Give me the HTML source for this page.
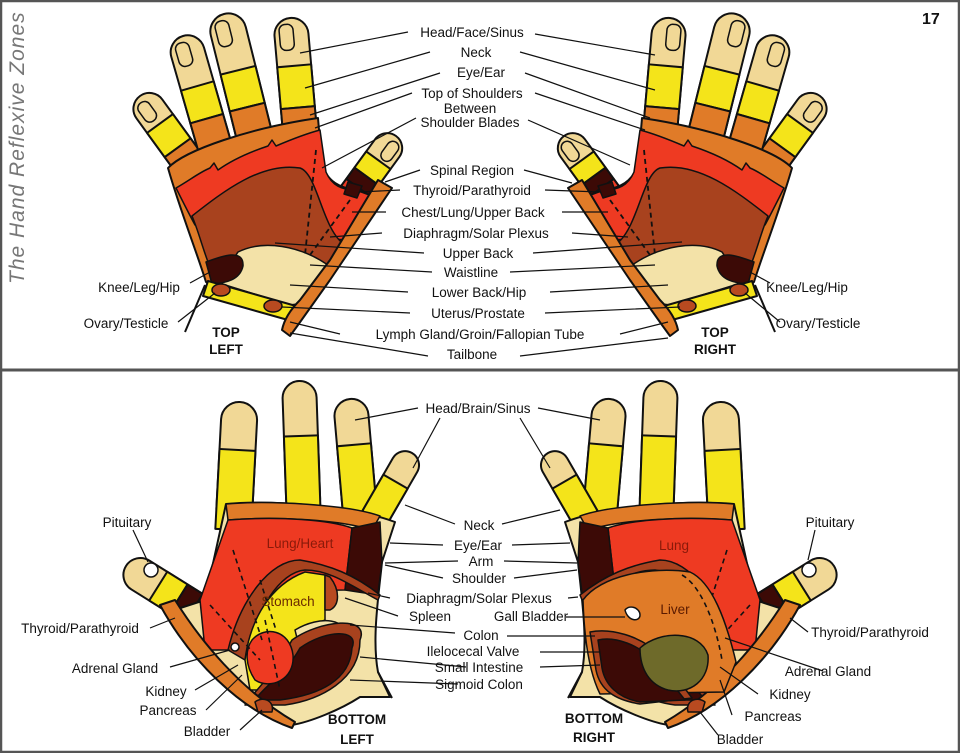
<!DOCTYPE html>
<html><head><meta charset="utf-8"><style>
html,body{margin:0;padding:0;background:#fff}
svg{display:block}
text{font-family:"Liberation Sans",sans-serif;font-size:13.5px;fill:#111}
.b{font-weight:bold}
</style></head><body>
<svg width="960" height="753" viewBox="0 0 960 753" xmlns="http://www.w3.org/2000/svg">
<defs>
<g id="tl" stroke="#111" stroke-width="2" stroke-linejoin="round">
  <g transform="translate(140,96) rotate(-36)">
    <rect x="-16" y="0" width="32" height="120" rx="16" fill="#F1D896"/>
    <rect x="-16" y="34" width="32" height="30" fill="#F4E41A"/>
    <rect x="-16" y="64" width="32" height="60" fill="#E07B28"/>
    <rect x="-10" y="6" width="13" height="22" rx="6" fill="none" stroke-width="1.5"/>
  </g>
  <g transform="translate(183,36) rotate(-16)">
    <rect x="-17" y="0" width="34" height="140" rx="17" fill="#F1D896"/>
    <rect x="-17" y="52" width="34" height="34" fill="#F4E41A"/>
    <rect x="-17" y="86" width="34" height="60" fill="#E07B28"/>
    <rect x="-11" y="6" width="14" height="24" rx="6" fill="none" stroke-width="1.5"/>
  </g>
  <g transform="translate(224,14) rotate(-14)">
    <rect x="-18" y="0" width="36" height="150" rx="18" fill="#F1D896"/>
    <rect x="-18" y="58" width="36" height="38" fill="#F4E41A"/>
    <rect x="-18" y="96" width="36" height="60" fill="#E07B28"/>
    <rect x="-12" y="6" width="14" height="26" rx="6" fill="none" stroke-width="1.5"/>
  </g>
  <g transform="translate(290,18) rotate(-5)">
    <rect x="-17" y="0" width="34" height="150" rx="17" fill="#F1D896"/>
    <rect x="-17" y="48" width="34" height="42" fill="#F4E41A"/>
    <rect x="-17" y="90" width="34" height="60" fill="#E07B28"/>
    <rect x="-12" y="6" width="14" height="26" rx="6" fill="none" stroke-width="1.5"/>
  </g>
  <g transform="translate(396,136) rotate(36)">
    <rect x="-15" y="0" width="30" height="90" rx="15" fill="#F1D896"/>
    <rect x="-15" y="30" width="30" height="20" fill="#F4E41A"/>
    <rect x="-15" y="50" width="30" height="14" fill="#3C0A06"/>
    <rect x="-15" y="64" width="30" height="26" fill="#EE3A22"/>
    <rect x="-2" y="5" width="12" height="22" rx="6" fill="none" stroke-width="1.5"/>
  </g>
  <path d="M168,168 C185,150 250,128 318,118 L322,165 C328,182 340,188 356,190 L372,196 L330,262 L300,310 L206,282 C196,250 180,210 168,168 Z" fill="#E07B28"/>
  <path d="M176,188 C190,180 200,172 210,168 L214,163 L218,170 C232,160 250,152 268,146 L272,140 L276,146 C290,140 305,134 320,130 L326,172 C332,186 342,190 356,190 L372,196 L345,240 L195,225 C188,212 182,200 176,188 Z" fill="#EE3A22" stroke-width="1.5"/>
  <path d="M192,216 C225,190 262,162 300,168 C318,174 322,230 345,245 L330,268 L208,262 C202,246 198,230 192,216 Z" fill="#A8421E" stroke-width="1.5"/>
  <path d="M238,252 C262,240 300,244 332,268 L312,302 L290,305 L222,284 C228,272 232,260 238,252 Z" fill="#F3E2A8" stroke-width="1.5"/>
  <path d="M206,262 C222,256 244,248 243,266 C240,280 226,283 212,284 Z" fill="#3C0A06" stroke-width="1.5"/>
  <path d="M208,281 L296,306 L288,320 L203,296 Z" fill="#F4E41A"/>
  <ellipse cx="221" cy="290" rx="9" ry="6" fill="#B84A20" stroke-width="1.5"/>
  <ellipse cx="273" cy="306" rx="9" ry="6" fill="#B84A20" stroke-width="1.5"/>
  <path d="M378,180 L392,188 L330,280 L298,325 L290,336 L282,330 C284,320 290,310 300,300 L330,260 Z" fill="#E07B28"/>
  <path d="M348,182 L362,186 L357,198 L344,194 Z" fill="#3C0A06" stroke-width="1.5"/>
  <path d="M316,150 L305,255 M350,200 L310,255" fill="none" stroke-dasharray="5,4" stroke-width="1.8"/>
  <path d="M205,285 L185,332" fill="none"/>
</g>
<g id="bl" stroke="#111" stroke-width="2" stroke-linejoin="round">
  <g transform="translate(240,402) rotate(3)">
    <rect x="-18" y="0" width="36" height="125" rx="18" fill="#F1D896"/>
    <rect x="-18" y="48" width="36" height="80" fill="#F4E41A"/>
  </g>
  <g transform="translate(299,381) rotate(-2)">
    <rect x="-17" y="0" width="34" height="135" rx="17" fill="#F1D896"/>
    <rect x="-17" y="55" width="34" height="80" fill="#F4E41A"/>
  </g>
  <g transform="translate(350,399) rotate(-5)">
    <rect x="-17" y="0" width="34" height="125" rx="17" fill="#F1D896"/>
    <rect x="-17" y="46" width="34" height="80" fill="#F4E41A"/>
  </g>
  <g transform="translate(412,453) rotate(30)">
    <rect x="-14" y="0" width="28" height="110" rx="14" fill="#F1D896"/>
    <rect x="-14" y="33" width="28" height="42" fill="#F4E41A"/>
    <rect x="-14" y="75" width="28" height="40" fill="#E07B28"/>
  </g>
  <g transform="translate(126,566) rotate(-58)">
    <rect x="-17" y="0" width="34" height="110" rx="17" fill="#F1D896"/>
    <rect x="-17" y="38" width="34" height="24" fill="#F4E41A"/>
    <rect x="-17" y="62" width="34" height="18" fill="#3C0A06"/>
    <rect x="-17" y="80" width="34" height="30" fill="#EE3A22"/>
  </g>
  <circle cx="151" cy="570" r="7" fill="#fff" stroke-width="1.5"/>
  <path d="M226,504 C270,500 350,505 395,522 L382,562 C378,600 372,640 378,672 L390,697 L360,697 C340,710 310,722 292,725 C250,700 205,660 168,612 L205,600 Z" fill="#F3E2A8"/>
  <path d="M226,504 C270,500 350,505 380,516 L372,530 C340,520 280,516 228,520 Z" fill="#E07B28" stroke-width="1.5"/>
  <path d="M228,520 C280,516 330,520 352,528 L345,590 C300,590 250,600 230,650 L205,650 L200,600 Z" fill="#EE3A22" stroke-width="1.5"/>
  <path d="M352,528 L380,522 L382,562 C380,580 378,590 378,595 L345,590 Z" fill="#3C0A06" stroke-width="1.5"/>
  <path d="M228,650 C240,600 270,560 300,560 C330,565 355,575 380,595 L378,600 C350,585 330,570 305,570 C280,572 255,610 245,660 Z" fill="#A8421E" stroke-width="1.5"/>
  <path d="M245,660 C250,620 270,585 305,572 L325,575 L325,620 C300,630 290,660 290,690 L250,690 Z" fill="#F4E41A" stroke-width="1.5"/>
  <path d="M325,575 L330,577 C340,590 340,605 330,610 L325,610 Z" fill="#B84A20" stroke-width="1.5"/>
  <path d="M295,630 C320,615 350,618 345,640 L300,650 Z" fill="#F3E2A8" stroke-width="1.5"/>
  <path d="M292,640 C320,620 370,615 360,640 C360,680 320,700 285,705 L245,705 C255,690 270,680 292,640 Z" fill="#A8421E" stroke-width="1.5"/>
  <path d="M300,648 C325,630 360,628 352,648 C350,680 320,695 280,700 L255,700 C265,685 285,675 300,648 Z" fill="#3C0A06" stroke-width="1.5"/>
  <path d="M252,640 C265,625 290,630 293,655 C295,680 270,690 255,680 C245,665 245,650 252,640 Z" fill="#EE3A22" stroke-width="1.5"/>
  <circle cx="235" cy="647" r="4" fill="#fff" stroke-width="1.5"/>
  <path d="M160,605 L175,600 C200,640 240,690 295,722 L292,728 C240,710 190,660 160,605 Z" fill="#E07B28"/>
  <path d="M255,702 C262,696 275,700 272,712 L258,712 Z" fill="#B84A20" stroke-width="1.5"/>
  <path d="M233,550 L262,640 M210,605 L260,660 M260,580 L276,630 M265,620 L280,690" fill="none" stroke-dasharray="5,4" stroke-width="1.6"/>
  <path d="M378,672 L392,698" fill="none"/>
</g>
</defs>

<rect x="1" y="1" width="958" height="751" fill="none" stroke="#555" stroke-width="2.5"/>
<line x1="0" y1="370" x2="960" y2="370" stroke="#555" stroke-width="3"/>

<text x="0" y="0" transform="translate(24,284) rotate(-90)" style="font-size:21px;font-style:italic;fill:#777;letter-spacing:1px">The Hand Reflexive Zones</text>
<text x="922" y="24" class="b" style="font-size:16px">17</text>

<use href="#tl"/>
<use href="#tl" transform="translate(960,0) scale(-1,1)"/>
<use href="#bl"/>
<use href="#bl" transform="translate(960,0) scale(-1,1)"/>
<!-- bottom right liver area -->
<g stroke="#111" stroke-width="1.5" stroke-linejoin="round">
  <path d="M583,600 C600,576 650,566 690,572 C712,582 726,620 736,662 L724,692 L600,694 C588,670 584,632 583,600 Z" fill="#E07B28"/>
  <path d="M590,632 C610,628 640,635 660,655 L692,698 L640,704 C615,700 600,690 596,670 Z" fill="#A8421E"/>
  <path d="M598,640 C615,636 640,645 655,662 L685,700 L640,702 C618,698 605,685 602,668 Z" fill="#3C0A06"/>
  <path d="M640,648 C660,630 700,630 708,655 C710,680 690,695 668,690 C650,685 640,670 640,648 Z" fill="#6E6A2A"/>
  <path d="M625,610 C630,604 640,608 640,615 C640,622 628,622 625,610 Z" fill="#fff"/>
  <path d="M682,575 C700,585 715,620 722,660" fill="none" stroke-dasharray="5,4" stroke-width="1.6"/>
</g>

<g stroke="#111" stroke-width="1.2" fill="none">
  <path d="M408,32 L300,53 M535,34 L655,55"/>
  <path d="M430,52 L305,88 M520,52 L655,90"/>
  <path d="M440,73 L310,115 M525,73 L650,118"/>
  <path d="M412,93 L315,128 M535,93 L645,130"/>
  <path d="M416,118 L322,168 M528,120 L630,165"/>
  <path d="M420,170 L385,182 M524,170 L572,183"/>
  <path d="M400,190 L360,192 M545,190 L600,192"/>
  <path d="M386,212 L352,212 M562,212 L608,212"/>
  <path d="M382,233 L330,237 M572,233 L628,237"/>
  <path d="M424,253 L275,243 M533,253 L682,242"/>
  <path d="M432,272 L310,265 M510,272 L655,265"/>
  <path d="M408,292 L290,285 M550,292 L668,285"/>
  <path d="M410,313 L282,307 M545,313 L680,307"/>
  <path d="M340,334 L290,322 M620,334 L668,322"/>
  <path d="M428,356 L290,333 M520,356 L668,338"/>
  <path d="M190,283 L210,272 M770,283 L750,272"/>
  <path d="M178,322 L215,293 M780,322 L745,293"/>
  <path d="M418,408 L355,420 M440,418 L413,468 M538,408 L600,420 M520,418 L550,468"/>
  <path d="M455,524 L405,505 M502,524 L560,510"/>
  <path d="M443,545 L390,543 M512,545 L570,543"/>
  <path d="M458,561 L385,563 M504,561 L577,563"/>
  <path d="M443,578 L385,565 M514,578 L577,570"/>
  <path d="M390,598 L368,593 M568,598 L578,597"/>
  <path d="M398,616 L345,598 M566,617 L625,617"/>
  <path d="M455,633 L350,625 M507,636 L595,636"/>
  <path d="M466,667 L360,657 M540,652 L600,652"/>
  <path d="M458,684 L350,680 M540,667 L600,665"/>
  <path d="M133,530 L148,562 M815,530 L808,560"/>
  <path d="M150,628 L175,618 M808,632 L790,618"/>
  <path d="M170,667 L230,650 M823,671 L725,638"/>
  <path d="M195,690 L238,665 M758,694 L720,667"/>
  <path d="M206,710 L242,675 M732,715 L720,680"/>
  <path d="M240,730 L262,710 M718,735 L700,712"/>
</g>

<g text-anchor="middle">
<text x="472" y="37">Head/Face/Sinus</text>
<text x="476" y="57">Neck</text>
<text x="481" y="77">Eye/Ear</text>
<text x="472" y="98">Top of Shoulders</text>
<text x="470" y="113">Between</text>
<text x="470" y="127">Shoulder Blades</text>
<text x="472" y="175">Spinal Region</text>
<text x="472" y="195">Thyroid/Parathyroid</text>
<text x="473" y="217">Chest/Lung/Upper Back</text>
<text x="476" y="238">Diaphragm/Solar Plexus</text>
<text x="478" y="258">Upper Back</text>
<text x="471" y="277">Waistline</text>
<text x="479" y="297">Lower Back/Hip</text>
<text x="478" y="318">Uterus/Prostate</text>
<text x="480" y="339">Lymph Gland/Groin/Fallopian Tube</text>
<text x="472" y="359">Tailbone</text>
<text x="139" y="292">Knee/Leg/Hip</text>
<text x="807" y="292">Knee/Leg/Hip</text>
<text x="126" y="328">Ovary/Testicle</text>
<text x="818" y="328">Ovary/Testicle</text>
<text x="226" y="337" class="b">TOP</text>
<text x="226" y="354" class="b">LEFT</text>
<text x="715" y="337" class="b">TOP</text>
<text x="715" y="354" class="b">RIGHT</text>

<text x="478" y="413">Head/Brain/Sinus</text>
<text x="479" y="530">Neck</text>
<text x="478" y="550">Eye/Ear</text>
<text x="481" y="566">Arm</text>
<text x="479" y="583">Shoulder</text>
<text x="479" y="603">Diaphragm/Solar Plexus</text>
<text x="430" y="621">Spleen</text>
<text x="531" y="621">Gall Bladder</text>
<text x="481" y="640">Colon</text>
<text x="473" y="656">Ilelocecal Valve</text>
<text x="479" y="672">Small Intestine</text>
<text x="479" y="689">Sigmoid Colon</text>
<text x="127" y="527">Pituitary</text>
<text x="830" y="527">Pituitary</text>
<text x="80" y="633">Thyroid/Parathyroid</text>
<text x="870" y="637">Thyroid/Parathyroid</text>
<text x="115" y="673">Adrenal Gland</text>
<text x="828" y="676">Adrenal Gland</text>
<text x="166" y="696">Kidney</text>
<text x="790" y="699">Kidney</text>
<text x="168" y="715">Pancreas</text>
<text x="773" y="721">Pancreas</text>
<text x="207" y="736">Bladder</text>
<text x="740" y="744">Bladder</text>
<text x="357" y="724" class="b">BOTTOM</text>
<text x="357" y="744" class="b">LEFT</text>
<text x="594" y="723" class="b">BOTTOM</text>
<text x="594" y="742" class="b">RIGHT</text>
<text x="300" y="548" style="fill:#8a1a0a">Lung/Heart</text>
<text x="288" y="606" style="fill:#6a2a00">Stomach</text>
<text x="674" y="550" style="fill:#8a1a0a">Lung</text>
<text x="675" y="614" style="fill:#5a1a00">Liver</text>
</g>
</svg>
</body></html>
